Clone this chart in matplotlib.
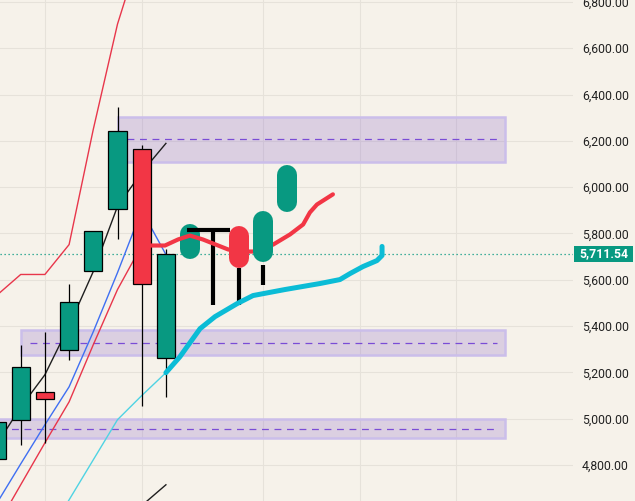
import matplotlib
matplotlib.use("Agg")
import matplotlib.pyplot as plt
import matplotlib.transforms as mtransforms
from matplotlib.patches import Rectangle

# weekly candles (index, open, high, low, close)
candle_idx = [0, 1, 2, 3, 4, 5, 6, 7]
opens = [4827, 4996, 5117, 5298, 5640, 5904, 6163, 5264]
highs = [4990, 5320, 5376, 5584, 5809, 6345, 6181, 5731]
lows = [4810, 4888, 4896, 5255, 5640, 5778, 5056, 5095]
closes = [4987, 5225, 5087, 5506, 5809, 6241, 5584, 5711.54]
last_price = 5711.54

# indicator lines (value at each candle)
ma_idx = [0, 1, 2, 3, 4, 5, 6, 7]
ma_black = [4888, 5050, 5190, 5402, 5636, 5917, 6064, 6189]
ma_blue = [4633, 4805, 4974, 5138, 5376, 5631, 5900, 5709]
ma_red = [4533, 4715, 4896, 5073, 5320, 5558, 5748]
ma_cyan = [4477, 4650, 4823, 4996, 5100, 5199]
ma_cyan_idx = [2, 3, 4, 5, 6, 7]
upper_band = [5532, 5623, 5623, 5752, 6250, 6704, 7037]
lower_band_idx = [6, 7]
lower_band = [4625, 4715]

# support / resistance zones
zone_left = [5, 1, -1]
zone_right = [21, 21, 21]
zone_top = [6305, 5385, 5000]
zone_bottom = [6110, 5277, 4917]
zone_mid = [6210, 5329, 4956]

# hand-drawn projection
red_proj_x = [6.34, 6.96, 7.5, 7.99, 8.53, 9.57, 10.06, 10.6, 11.43, 12.13, 12.67, 12.95, 13.24, 13.9]
red_proj_y = [5748, 5748, 5774, 5791, 5774, 5731, 5722, 5722, 5752, 5796, 5839, 5891, 5925, 5969]
cyan_proj_x = [7.0, 7.58, 8.41, 9.03, 9.94, 10.6, 11.92, 13.37, 14.19, 14.61, 15.14, 15.72, 15.93, 15.93]
cyan_proj_y = [5199, 5268, 5389, 5441, 5497, 5532, 5558, 5584, 5601, 5627, 5657, 5683, 5705, 5744]
pill_idx = [8, 10, 11, 12]
pill_top = [5796, 5787, 5852, 6051]
pill_bottom = [5735, 5692, 5722, 5938]
pill_up = [True, False, True, True]
stick_idx = [8.95, 10, 11]
stick_top = [5813, 5649, 5666]
stick_bottom = [5493, 5493, 5579]
tbar_x = [7.86, 9.65]
tbar_y = 5813

price_ticks = list(range(4800, 6801, 200))
time_grid = [2, 6, 11, 15, 19]

BG = "#F6F2EA"
GREEN = "#089981"
RED = "#F23645"

fig = plt.figure(figsize=(6.35, 5.01), dpi=100, facecolor=BG)
ax = fig.add_axes([0, 0, 573 / 635, 1])
ax.set_facecolor(BG)
ax.set_xlim(0.145, 23.82)
ax.set_ylim(4645, 6808)

# grid
ax.set_xticks(time_grid)
ax.set_yticks(price_ticks)
ax.grid(True, color="#E6E2DA", lw=0.8, zorder=0)
ax.set_axisbelow(True)
for s in ax.spines.values():
    s.set_visible(False)
ax.tick_params(axis="x", length=0, labelbottom=False)
ax.yaxis.tick_right()
ax.set_yticklabels([f"{v:,.2f}" for v in price_ticks])
ax.tick_params(axis="y", length=0, pad=6.5, labelsize=8.8, labelcolor="#222222")
for lab in ax.get_yticklabels():
    lab.set_fontfamily("Roboto")

# zones
for l, r, t, b, m in zip(zone_left, zone_right, zone_top, zone_bottom, zone_mid):
    ax.add_patch(Rectangle((l, b), r - l, t - b, facecolor="#9575CD", alpha=0.28,
                           edgecolor="none", zorder=1))
    ax.add_patch(Rectangle((l, b), r - l, t - b, facecolor="none",
                           edgecolor="#CBBEEA", lw=1.8, zorder=1.1))
    ax.plot([l + 0.4, r - 0.3], [m, m], color="#7A4CD6", lw=0.9,
            dashes=(5.5, 4.5), zorder=1.2)

# current price line
ax.axhline(last_price, color=GREEN, lw=0.9, ls=(0, (1, 2.2)), zorder=1.5)

# indicator lines
ax.plot(candle_idx[:len(upper_band)], upper_band, color="#E8364B", lw=1.0, zorder=2)
ax.plot(ma_idx[:len(ma_red)], ma_red, color="#E8364B", lw=1.0, zorder=2)
ax.plot(ma_idx, ma_blue, color="#3F6FF2", lw=1.0, zorder=2)
ax.plot(ma_cyan_idx, ma_cyan, color="#4FD3E3", lw=1.0, zorder=2)
ax.plot(ma_idx, ma_black, color="#1E1E1E", lw=1.0, zorder=2)
ax.plot(lower_band_idx, lower_band, color="#1E1E1E", lw=1.0, zorder=2)

# candles
body_colors = [GREEN if c >= o else RED for o, c in zip(opens, closes)]
ax.vlines(candle_idx, lows, highs, color="black", lw=0.9, zorder=3)
ax.bar(candle_idx, [c - o for o, c in zip(opens, closes)], bottom=opens, width=0.75,
       color=body_colors, edgecolor="black", linewidth=0.9, zorder=4)

# hand-drawn projection
ax.plot(cyan_proj_x, cyan_proj_y, color="#0BBCD6", lw=3.6, solid_capstyle="round",
        solid_joinstyle="round", zorder=6)
ax.vlines(stick_idx, stick_bottom, stick_top, color="black", lw=3.0, zorder=5)
ax.plot(tbar_x, [tbar_y, tbar_y], color="black", lw=3.0, solid_capstyle="butt", zorder=6.5)
for i, t, b, up in zip(pill_idx, pill_top, pill_bottom, pill_up):
    z = 6.2 if i == 8 else 7.5
    ax.plot([i, i], [b, t], color=GREEN if up else RED, lw=14.4,
            solid_capstyle="round", zorder=z)
ax.plot(red_proj_x, red_proj_y, color=RED, lw=3.0, solid_capstyle="round",
        solid_joinstyle="round", zorder=7)

# last price label on the scale
trans = mtransforms.blended_transform_factory(ax.transAxes, ax.transData)
ax.add_patch(Rectangle((574 / 573, last_price - 33), 59 / 573, 66, transform=trans,
                       facecolor=GREEN, edgecolor="none", clip_on=False, zorder=10))
ax.text(603.5 / 573, last_price, f"{last_price:,.2f}", transform=trans, ha="center",
        va="center", color="white", fontsize=8.8, fontweight="bold", family="Roboto",
        clip_on=False, zorder=11)

fig.savefig("out.png", dpi=100, facecolor=BG)
